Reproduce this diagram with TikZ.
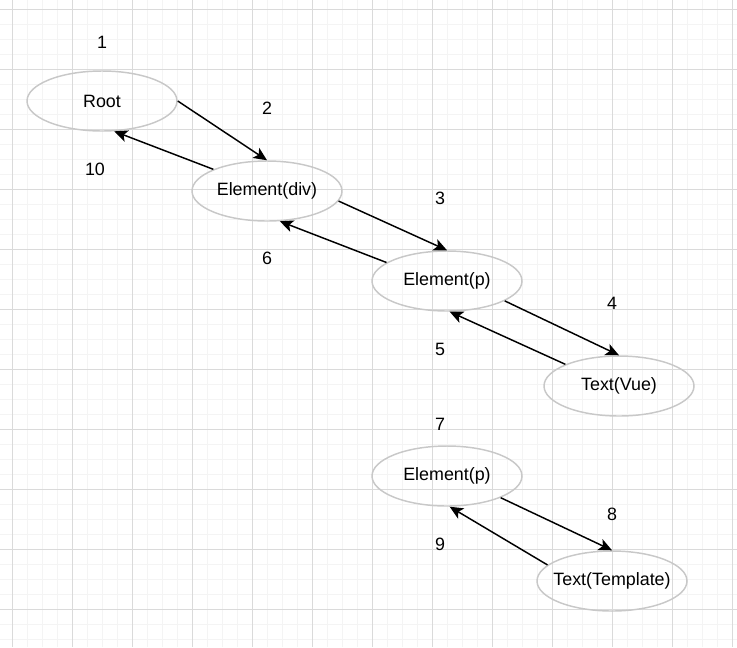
\documentclass[tikz,border=0pt]{standalone}
\usepackage{fontspec}
\setmainfont{Liberation Sans}
\usetikzlibrary{shapes.geometric,arrows.meta}

\definecolor{gridmajor}{RGB}{218,218,218}
\definecolor{gridminor}{RGB}{244,244,244}
\definecolor{ellgray}{RGB}{200,200,200}

\tikzset{every picture/.style={line width=0.75pt}}
\tikzset{
	vnode/.style={ellipse,draw=ellgray,line width=1.1pt,minimum width=112.5pt,minimum height=45pt,inner xsep=-20pt,inner ysep=0pt,font=\fontsize{13.4}{15}\selectfont},
	numlabel/.style={inner sep=0.75pt,font=\fontsize{13.4}{15}\selectfont},
	walk/.style={line width=1.1pt,-{Stealth[length=10pt,width=9pt,inset=2.5pt]}}
}

\begin{document}
\begin{tikzpicture}[x=0.75pt,y=0.75pt,yscale=-1,xscale=1]
	\useasboundingbox (0,0) rectangle (737,647);
	
	%Grid
	\foreach \x in {12.5,27.5,...,737} \draw[gridminor,line width=1.2pt] (\x,0) -- (\x,647);
	\foreach \y in {-5.5,9.5,...,647} \draw[gridminor,line width=1.2pt] (0,\y) -- (737,\y);
	\foreach \x in {12.5,72.5,...,737} \draw[gridmajor] (\x,0) -- (\x,647);
	\foreach \y in {9.5,69.5,...,647} \draw[gridmajor] (0,\y) -- (737,\y);
	
	%Ellipses
	\node[vnode] (root) at (102,101) {Root};
	\node[vnode] (div) at (267,191) {Element(div)};
	\node[vnode] (pa) at (447,281) {Element(p)};
	\node[vnode] (vue) at (619,386) {Text(Vue)};
	\node[vnode] (pb) at (447,476) {Element(p)};
	\node[vnode] (tmpl) at (612,581) {Text(Template)};
	
	% Text Node
	\node[numlabel] (s1) at (102,42) {1};
	\node[numlabel] (s2) at (267,108) {2};
	\node[numlabel] (s3) at (440,198) {3};
	\node[numlabel] (s4) at (612,303) {4};
	\node[numlabel] (s5) at (440,349) {5};
	\node[numlabel] (s6) at (267,258) {6};
	\node[numlabel] (s7) at (440,424) {7};
	\node[numlabel] (s8) at (612,514) {8};
	\node[numlabel] (s9) at (440,544) {9};
	\node[numlabel] (s10) at (95,169) {10};
	
	%Arrows down
	\draw[walk] (root.east) -- (div.north);
	\draw[walk] (div.-8) -- (pa.north);
	\draw[walk] (pa.-19) -- (vue.north);
	\draw[walk] (pb.-22) -- (tmpl.north);
	%Arrows back
	\draw[walk] (vue.158) -- (pa.-85);
	\draw[walk] (tmpl.166) -- (pb.-85);
	\draw[walk] (pa.163) -- (div.-67);
	\draw[walk] (div.158) -- (root.-68);
	
\end{tikzpicture}
\end{document}
